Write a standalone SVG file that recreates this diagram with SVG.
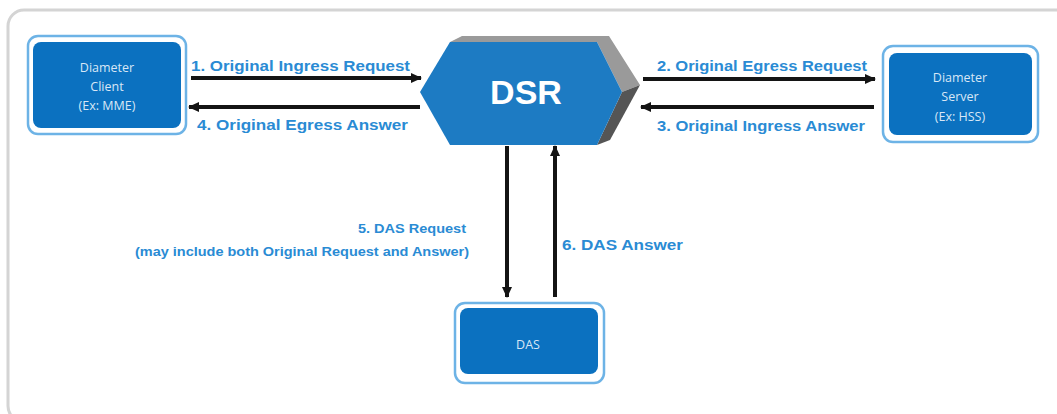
<svg xmlns="http://www.w3.org/2000/svg" width="1057" height="414" viewBox="0 0 1057 414">
<style>
.frame{fill:none;stroke:#d4d4d4;stroke-width:3}
.outer{fill:#fff;stroke:#6db3e6;stroke-width:2.5}
.inner{fill:#0b71c0}
.ntxt{font-family:"Open Sans","Liberation Sans",sans-serif;font-size:12.5px;fill:#d8e7f6;text-anchor:middle}
.dsr{font-family:"Liberation Sans",Arial,sans-serif;font-size:34px;font-weight:bold;fill:#fff;text-anchor:middle}
.conn{stroke:#141414;stroke-width:4;fill:none}
.lbl{font-family:"Liberation Sans",Arial,sans-serif;font-size:14px;font-weight:bold;fill:#2a8bd4}
.lbls{font-family:"Liberation Sans",Arial,sans-serif;font-size:12px;font-weight:bold;fill:#2a8bd4}
</style>
<defs>
<marker id="ah" markerUnits="userSpaceOnUse" markerWidth="11" markerHeight="11" refX="10" refY="5.5" orient="auto">
<path d="M0,0.5 L11,5.5 L0,10.5 z" fill="#141414"/>
</marker>
</defs>
<rect class="frame" x="8" y="10" width="1100" height="412" rx="16"/>

<g id="client">
<rect class="outer" x="28" y="36" width="158" height="98" rx="10"/>
<rect class="inner" x="33" y="42" width="148" height="86" rx="8"/>
<text class="ntxt" x="107" y="72">Diameter</text>
<text class="ntxt" x="107" y="91">Client</text>
<text class="ntxt" x="107" y="110">(Ex: MME)</text>
</g>

<g id="server">
<rect class="outer" x="883" y="46" width="155" height="96" rx="10"/>
<rect class="inner" x="889" y="53" width="143" height="82" rx="8"/>
<text class="ntxt" x="960" y="82">Diameter</text>
<text class="ntxt" x="960" y="101">Server</text>
<text class="ntxt" x="960" y="121">(Ex: HSS)</text>
</g>

<g id="das">
<rect class="outer" x="455" y="303" width="149" height="80" rx="10"/>
<rect class="inner" x="460" y="308" width="138" height="66" rx="8"/>
<text class="ntxt" x="528" y="349">DAS</text>
</g>

<g id="dsr">
<polygon points="450,42 462,36 609,36 640,85 622,92 597,42" fill="#9a9a9a"/>
<polygon points="622,92 640,85 610,140 597,145" fill="#555"/>
<polygon points="420,92 450,42 597,42 622,92 597,145 450,145" fill="#1d7bc3"/>
<text class="dsr" x="526" y="104">DSR</text>
</g>

<g id="connectors">
<line class="conn" x1="191" y1="78" x2="421" y2="78" marker-end="url(#ah)"/>
<line class="conn" x1="420" y1="107" x2="189" y2="107" marker-end="url(#ah)"/>
<line class="conn" x1="643" y1="79" x2="875" y2="79" marker-end="url(#ah)"/>
<line class="conn" x1="874" y1="107" x2="641" y2="107" marker-end="url(#ah)"/>
<line class="conn" x1="507" y1="146" x2="507" y2="297" marker-end="url(#ah)"/>
<line class="conn" x1="555" y1="297" x2="555" y2="146" marker-end="url(#ah)"/>
<text class="lbl" x="191" y="71" textLength="219" lengthAdjust="spacingAndGlyphs">1.  Original Ingress Request</text>
<text class="lbl" x="197" y="130" textLength="211" lengthAdjust="spacingAndGlyphs">4.  Original Egress  Answer</text>
<text class="lbl" x="657" y="71" textLength="210" lengthAdjust="spacingAndGlyphs">2.  Original Egress Request</text>
<text class="lbl" x="657" y="131" textLength="208" lengthAdjust="spacingAndGlyphs">3.  Original Ingress Answer</text>
<text class="lbls" x="358" y="233" textLength="108" lengthAdjust="spacingAndGlyphs">5. DAS Request</text>
<text class="lbls" x="135" y="256" textLength="334" lengthAdjust="spacingAndGlyphs">(may include both Original Request and Answer)</text>
<text class="lbl" x="562" y="250" textLength="121" lengthAdjust="spacingAndGlyphs">6.  DAS Answer</text>
</g>
</svg>
